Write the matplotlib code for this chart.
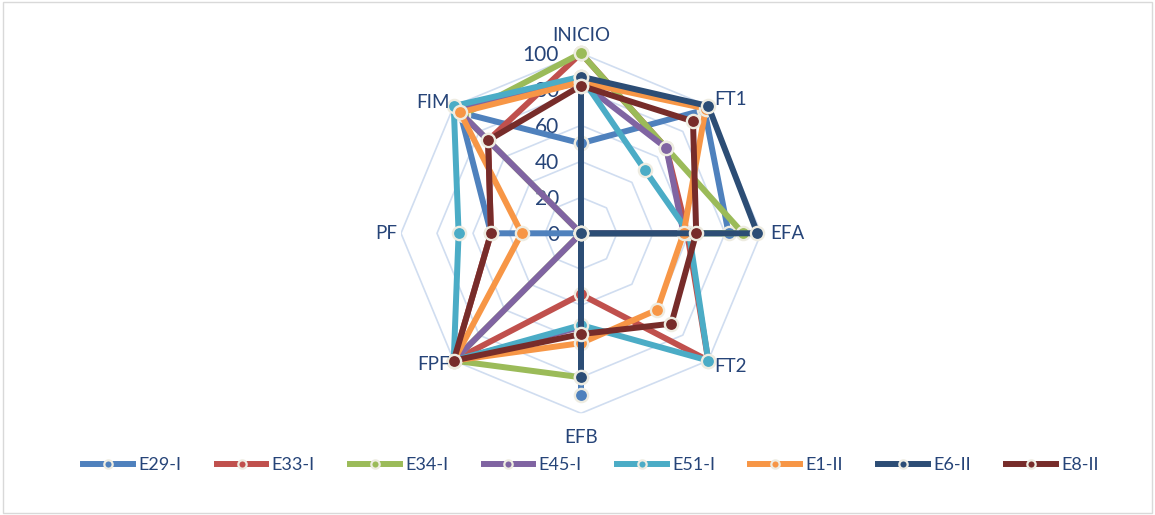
import numpy as np
import matplotlib
matplotlib.use("Agg")
import matplotlib.pyplot as plt
from matplotlib.lines import Line2D
from matplotlib.patches import Rectangle
from matplotlib.transforms import offset_copy

plt.rcParams['font.family'] = ['Lato', 'DejaVu Sans']

categories = ["INICIO", "FT1", "EFA", "FT2", "EFB", "FPF", "PF", "FIM"]
series_names = ["E29-I", "E33-I", "E34-I", "E45-I", "E51-I", "E1-II", "E6-II", "E8-II"]
e29_i = [50, 97, 82, 0, 90, 0, 50, 95]
e33_i = [100, 67, 59, 100, 34, 100, 50, 73]
e34_i = [100, 67, 90, 0, 80, 100, 0, 93]
e45_i = [84, 67, 57, 0, 52, 100, 0, 97]
e51_i = [87, 50, 60, 100, 51, 100, 68, 100]
e1_ii = [84, 98, 57, 60, 61, 100, 33, 95]
e6_ii = [87, 100, 98, 0, 80, 0, 0, 0]
e8_ii = [82, 88, 64, 71, 56, 100, 50, 73]
series_values = [e29_i, e33_i, e34_i, e45_i, e51_i, e1_ii, e6_ii, e8_ii]
colors = ["#4F81BD", "#C0504D", "#9BBB59", "#8064A2", "#4BACC6", "#F79646", "#2C4D75", "#772C2A"]
r_ticks = [0, 20, 40, 60, 80, 100]

W, H = 1155, 515
fig = plt.figure(figsize=(W / 100, H / 100), dpi=100)
fig.patches.append(Rectangle((0.003, 0.004), 0.994, 0.992, transform=fig.transFigure,
                             fill=False, edgecolor="#D9D9D9", lw=1))

cx, cy, R = 581, 515 - 233.3, 180
ax = fig.add_axes([(cx - R) / W, (cy - R) / H, 2 * R / W, 2 * R / H], projection="polar")
ax.set_theta_zero_location("N")
ax.set_theta_direction(-1)
ax.set_ylim(0, 100)
ax.set_xticks([])
ax.set_yticks([])
ax.grid(False)
ax.spines["polar"].set_visible(False)
ax.patch.set_alpha(0)

n = len(categories)
theta = np.arange(n) * 2 * np.pi / n
theta_c = np.append(theta, theta[0])
grid_col = "#D0DDF0"
for r in r_ticks[1:]:
    ax.plot(theta_c, [r] * (n + 1), color=grid_col, lw=1.2, zorder=1)

for vals, col in zip(series_values, colors):
    v = np.append(vals, vals[0])
    ax.plot(theta_c, v, color=col, lw=4.3, marker="o", markersize=9.5,
            markerfacecolor=col, markeredgecolor="#EEECE1", markeredgewidth=1.7,
            solid_joinstyle="round", zorder=3, clip_on=False)

txt_col = "#264478"
tr = offset_copy(ax.transData, fig=fig, x=-22, y=-2, units="dots")
for r in r_ticks:
    ax.text(0, r, str(r), transform=tr, ha="right", va="center", fontsize=15,
            color=txt_col, zorder=2)

label_pos = {
    "INICIO": (110, "center", "center"),
    "FT1": (105, "left", "center"),
    "EFA": (105, "left", "center"),
    "FT2": (105, "left", "center"),
    "EFB": (113.5, "center", "center"),
    "FPF": (103, "right", "center"),
    "PF": (102, "right", "center"),
    "FIM": (103, "right", "center"),
}
for t, cat in zip(theta, categories):
    r, ha, va = label_pos[cat]
    ax.text(t, r, cat, ha=ha, va=va, fontsize=13.5, color=txt_col, clip_on=False)

handles = [Line2D([0], [0], color=c, lw=4.3, marker="o", markersize=6,
                  markerfacecolor=c, markeredgecolor="#EEECE1", markeredgewidth=1.6)
           for c in colors]
leg = fig.legend(handles, series_names, loc="center", bbox_to_anchor=(591 / W, 1 - 465 / H),
                 ncol=8, frameon=False, fontsize=13, handlelength=2.75,
                 columnspacing=1.95, handletextpad=0.3)
for t in leg.get_texts():
    t.set_color(txt_col)

fig.savefig("out.png", dpi=100)
